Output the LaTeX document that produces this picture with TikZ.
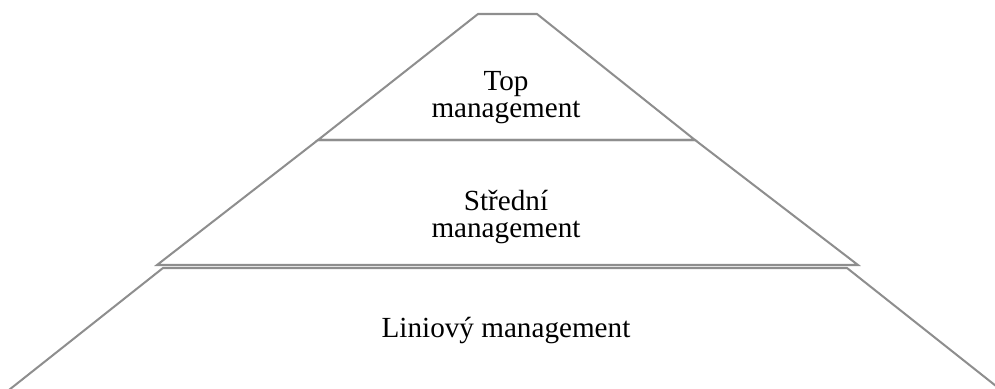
\documentclass[tikz,border=0pt]{standalone}
\usepackage{fontspec}
\setmainfont{Liberation Serif}
\definecolor{edgegray}{HTML}{8E8E8E}
\usetikzlibrary{positioning}
\tikzset{
  layer/.style={draw=edgegray, line width=1.15pt, line join=miter},
  lbl/.style={font=\fontsize{16.6}{15.2}\selectfont, text=black,
    align=center, anchor=base, inner sep=0pt},
}

\begin{document}
\begin{tikzpicture}[x=0.02cm, y=-0.02cm]
    \clip (0,0) rectangle (995,389);

    % layers of the pyramid, bottom to top
    \draw[layer] (163,268) -- (847,268) -- (1020,405) -- (-10,405) -- cycle;
    \draw[layer] (318,140) -- (695,140) -- (858,265) -- (157,265) -- cycle;
    \draw[layer] (478,14) -- (537,14) -- (695,140) -- (318,140) -- cycle;

    % labels (base = last line)
    \node[lbl] (topmgmt) at (506,117) {Top\\management};
    \node[lbl] (midmgmt) at (506,237) {Střední\\management};
    \node[lbl] (linemgmt) at (506,337) {Liniový management};
  \end{tikzpicture}
\end{document}
